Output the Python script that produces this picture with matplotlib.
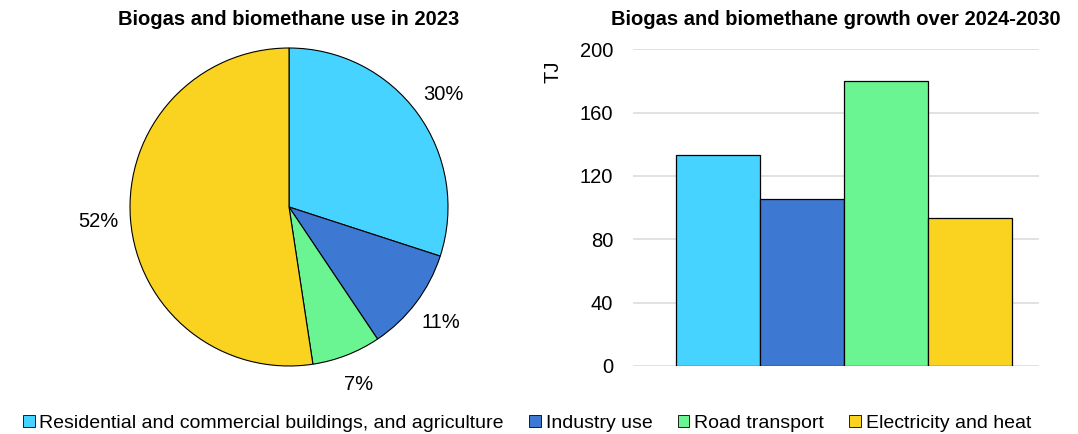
import matplotlib
matplotlib.use("Agg")
import matplotlib.pyplot as plt
from matplotlib.patches import Patch

# data
categories = ["Residential and commercial buildings, and agriculture",
              "Industry use", "Road transport", "Electricity and heat"]
share_2023 = [30.0, 10.6, 7.0, 52.4]
growth_tj = [133, 105.5, 180, 93.5]
colors = ["#47D3FF", "#3D79D3", "#6AF492", "#FAD320"]
y_ticks = [0, 40, 80, 120, 160, 200]

plt.rcParams["font.family"] = ["Liberation Sans", "DejaVu Sans"]

fig = plt.figure(figsize=(10.78, 4.34), dpi=100)

# pie
ax1 = fig.add_axes([0.1206, 0.1567, 0.295, 0.7327])
ax1.pie(share_2023, colors=colors, startangle=90, counterclock=False,
        autopct="%.0f%%", pctdistance=1.2,
        wedgeprops={"edgecolor": "black", "linewidth": 0.8},
        textprops={"fontsize": 14.5})
ax1.set_xlim(-1, 1)
ax1.set_ylim(-1, 1)
ax1.set_aspect("equal")
fig.text(0.268, 0.955, "Biogas and biomethane use in 2023",
         ha="center", va="center", fontsize=14.5, fontweight="bold")

# bars
ax2 = fig.add_axes([0.587, 0.1567, 0.377, 0.7297])
x = range(len(growth_tj))
ax2.bar(x, growth_tj, width=1.0, color=colors, edgecolor="black",
        linewidth=0.9, zorder=3)
ax2.set_xlim(-1.02, 3.83)
ax2.set_ylim(0, 200)
ax2.set_yticks(y_ticks)
ax2.set_xticks([])
ax2.grid(axis="y", color="#DDDDDD", linewidth=1.2, zorder=0)
for s in ax2.spines.values():
    s.set_visible(False)
ax2.tick_params(axis="y", length=0, pad=14, labelsize=14.5)
ax2.text(-0.197, 0.93, "TJ", transform=ax2.transAxes, rotation=90,
         ha="center", va="center", fontsize=14.5)
fig.text(0.775, 0.955, "Biogas and biomethane growth over 2024-2030",
         ha="center", va="center", fontsize=14.5, fontweight="bold")

# legend
handles = [Patch(facecolor=c, edgecolor="black", linewidth=0.6) for c in colors]
fig.legend(handles, categories, loc="lower center", ncol=4, frameon=False,
           bbox_to_anchor=(0.489, -0.035), fontsize=14,
           handlelength=0.6, handleheight=0.6, handletextpad=0.25,
           columnspacing=1.3)

fig.savefig("out.png", dpi=100)
